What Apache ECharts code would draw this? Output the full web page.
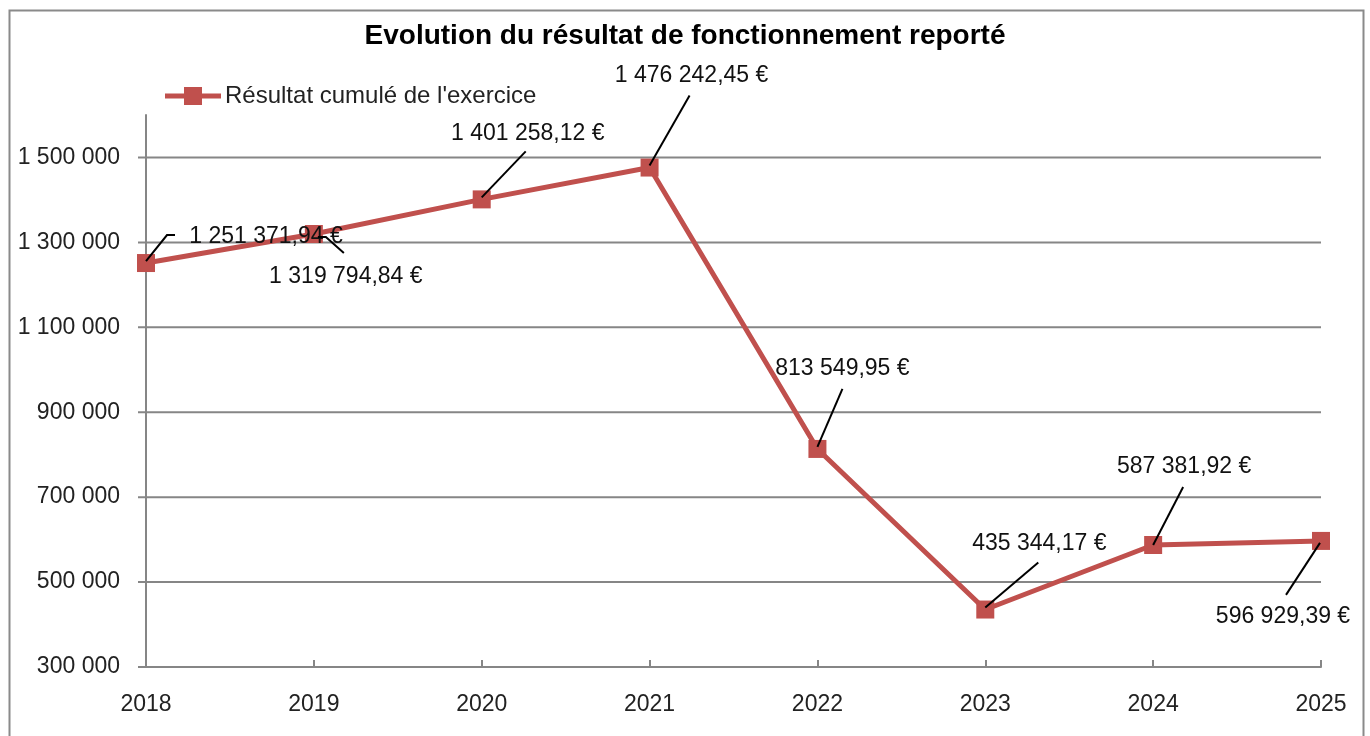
<!DOCTYPE html>
<html><head><meta charset="utf-8">
<script src="https://cdn.jsdelivr.net/npm/echarts@6/dist/echarts.min.js"></script>
<style>html,body{margin:0;padding:0;background:#fff}#c{width:1370px;height:736px}</style>
</head><body><div id="c"></div>
<script>
const years = ['2018','2019','2020','2021','2022','2023','2024','2025'];
const values = [1251371.94, 1319794.84, 1401258.12, 1476242.45, 813549.95, 435344.17, 587381.92, 596929.39];
const yTicks = [300000, 500000, 700000, 900000, 1100000, 1300000, 1500000];
const seriesName = "Résultat cumulé de l'exercice";
const titleText = 'Evolution du résultat de fonctionnement reporté';

// styling: label text offsets and leader-line paths relative to each point (pixels)
const labelOffsets = [[120,-26],[32,43],[46,-66],[42,-92],[25,-80],[54,-66],[31,-78],[-38,76]];
const leaderPaths = [
  [[0,-2],[21,-28],[29,-28]],
  [[4,3],[12,3],[30,19]],
  [[0,-2],[44,-48]],
  [[0,-2],[40,-72]],
  [[0,-2],[25,-60]],
  [[0,-2],[53,-47]],
  [[0,0],[30,-58]],
  [[-1,2],[-35,54]]
];

function fmtThousands(v){
  return String(Math.round(v)).replace(/\B(?=(\d{3})+(?!\d))/g,' ');
}
function fmtEuro(v){
  const parts = v.toFixed(2).split('.');
  return parts[0].replace(/\B(?=(\d{3})+(?!\d))/g,' ') + ',' + parts[1] + ' €';
}
const FONT = 'Liberation Sans, Arial, sans-serif';
const red = '#C0504D';
const grey = '#868686';
const lastIdx = years.length - 1;

const chart = echarts.init(document.getElementById('c'));
chart.setOption({
  animation:false,
  graphic:[{type:'rect',shape:{x:9.5,y:10.5,width:1354,height:740},style:{fill:'none',stroke:'#8a8a8a',lineWidth:2},silent:true,z:-1}],
  title:{text:titleText,left:'center',top:17,textStyle:{fontFamily:FONT,fontWeight:'bold',fontSize:28,color:'#000'}},
  legend:{left:160,top:79,itemWidth:56,itemHeight:18,itemGap:4,
    textStyle:{fontFamily:FONT,fontSize:24,color:'#222',padding:[0,0,0,-1]},
    data:[{name:seriesName,icon:'path://M0,6.5 L19,6.5 L19,0 L37,0 L37,6.5 L56,6.5 L56,11.5 L37,11.5 L37,18 L19,18 L19,11.5 L0,11.5 Z',itemStyle:{color:red}}]},
  grid:{left:146,right:49,top:115,bottom:69},
  xAxis:{type:'category',data:years,boundaryGap:false,
    axisLine:{lineStyle:{color:grey,width:2}},
    axisTick:{show:true,inside:true,length:7,lineStyle:{color:grey,width:2},alignWithLabel:true},
    axisLabel:{fontFamily:FONT,fontSize:23,color:'#222',margin:26},
    splitLine:{show:false}},
  yAxis:{type:'value',min:300000,max:1600000,interval:100000,
    axisLine:{show:true,lineStyle:{color:grey,width:2}},
    axisTick:{show:false},
    axisLabel:{fontFamily:FONT,fontSize:23,color:'#222',margin:26,
      formatter:function(v){return yTicks.indexOf(v)>=0?fmtThousands(v):'';}},
    splitLine:{show:false}},
  series:[
  {
    name:'grid',type:'custom',silent:true,z:1,clip:false,legendHoverLink:false,
    data:yTicks.map(v=>[0,v]),
    renderItem:function(params,api){
      const v=api.value(1);
      const a=api.coord([0,v]);
      const b=api.coord([lastIdx,v]);
      return {type:'line',shape:{x1:a[0]-8,y1:a[1],x2:(v===yTicks[0]?a[0]:b[0]),y2:b[1]},
        style:{stroke:grey,lineWidth:2}};
    }
  },
  {
    name:seriesName,type:'line',data:values,
    symbol:'rect',symbolSize:18,
    lineStyle:{color:red,width:5},
    itemStyle:{color:red},
    label:{show:false},
    z:3
  },
  {
    name:'labels',type:'custom',silent:true,z:5,clip:false,
    data:values.map((v,i)=>[i,v]),
    renderItem:function(params,api){
      const i=params.dataIndex;
      const p=api.coord([api.value(0),api.value(1)]);
      const pts=leaderPaths[i].map(o=>[p[0]+o[0],p[1]+o[1]]);
      const o=labelOffsets[i];
      return {type:'group',children:[
        {type:'polyline',shape:{points:pts},style:{stroke:'#000',lineWidth:2,fill:null}},
        {type:'text',x:p[0]+o[0],y:p[1]+o[1],
          style:{text:fmtEuro(api.value(1)),align:'center',verticalAlign:'middle',
            font:'23px '+FONT,fill:'#111'}}
      ]};
    }
  }]
});
</script></body></html>
